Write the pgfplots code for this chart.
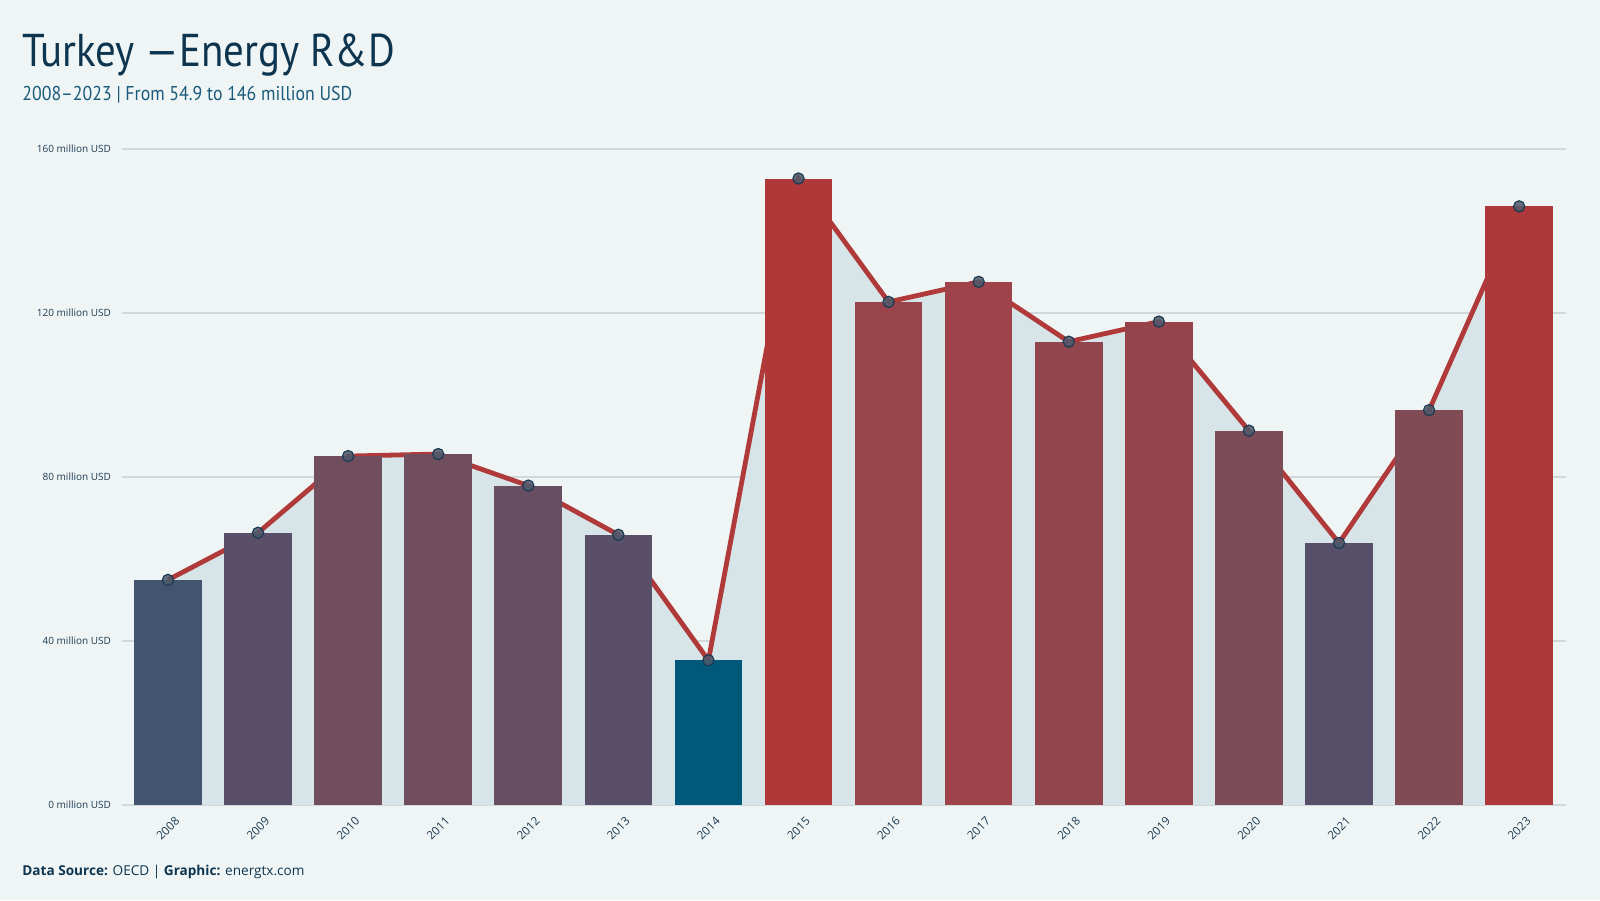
\documentclass[border=0pt]{standalone}
\usepackage{fontspec}
\usepackage{pgfplots}
\usepackage{pgfplotstable}
\pgfplotsset{compat=1.18}
\setmainfont{Open Sans}
\newfontfamily\titlefont[FakeStretch=0.89]{PT Sans}
\definecolor{bg}{HTML}{EFF5F5}
\definecolor{areac}{HTML}{D7E4E8}
\definecolor{linec}{HTML}{B03A3A}
\definecolor{titlec}{HTML}{0D3550}
\definecolor{subc}{HTML}{1A5A7A}
\definecolor{tickc}{HTML}{1C3A52}
\definecolor{gridc}{HTML}{CFD9DC}
\definecolor{markc}{HTML}{4E5A6C}
\definecolor{markd}{HTML}{1C3A52}
\definecolor{b0}{HTML}{43546E}
\definecolor{b1}{HTML}{5A4F68}
\definecolor{b2}{HTML}{704E5E}
\definecolor{b3}{HTML}{714E5E}
\definecolor{b4}{HTML}{674E62}
\definecolor{b5}{HTML}{594F68}
\definecolor{b6}{HTML}{00587A}
\definecolor{b7}{HTML}{B03838}
\definecolor{b8}{HTML}{98444A}
\definecolor{b9}{HTML}{9D4349}
\definecolor{b10}{HTML}{91454D}
\definecolor{b11}{HTML}{96444B}
\definecolor{b12}{HTML}{7C4D59}
\definecolor{b13}{HTML}{574F69}
\definecolor{b14}{HTML}{814B56}
\definecolor{b15}{HTML}{AE393B}
\pgfplotstableread{
x y
0 54.9
1 66.4
2 85.1
3 85.6
4 77.9
5 65.9
6 35.3
7 152.8
8 122.7
9 127.6
10 113.0
11 117.9
12 91.3
13 63.9
14 96.3
15 146.0
}\datatable
\begin{document}
\begin{tikzpicture}
\fill[bg] (0pt,0pt) rectangle (800pt,450pt);
\node[anchor=base west, inner sep=0, font=\titlefont\fontsize{23}{27}\selectfont, text=titlec] at (11pt,416.5pt) {Turkey —Energy R\&D};
\node[anchor=base west, inner sep=0, font=\titlefont\fontsize{10}{12}\selectfont, text=subc] at (11pt,399.5pt) {2008–2023 | From 54.9 to 146 million USD};
\node[anchor=base west, inner sep=0, font=\fontsize{6.8}{8}\selectfont, text=titlec] at (11pt,12.5pt) {\textbf{Data Source:} OECD | \textbf{Graphic:} energtx.com};
\begin{axis}[
  at={(61pt,47.5pt)}, anchor=south west, scale only axis,
  width=722pt, height=328pt,
  xmin=-0.51, xmax=15.52, ymin=0, ymax=160,
  axis line style={draw=none},
  major tick length=0pt,
  ytick={0,40,80,120,160},
  ymajorgrids, grid style={gridc, line width=0.6pt},
  xtick={0,...,15},
  xticklabels={2008,2009,2010,2011,2012,2013,2014,2015,2016,2017,2018,2019,2020,2021,2022,2023},
  x tick label style={rotate=45, anchor=north east, font=\fontsize{5.8}{7}\selectfont, text=tickc, inner sep=1pt, yshift=-5pt, xshift=-0.5pt},
  yticklabel={\pgfmathprintnumber{\tick} million USD},
  /pgf/number format/assume math mode=true,
  y tick label style={font=\fontsize{5}{6}\selectfont, text=tickc, xshift=-2pt},
  clip=false,
]
\addplot[fill=areac, draw=none] table {\datatable} \closedcycle;
\addplot[linec, line width=2.4pt] table {\datatable};
\addplot[ybar, bar width=0.75, bar shift=0pt, fill=b0, draw=none] coordinates {(0,54.9)};
\addplot[ybar, bar width=0.75, bar shift=0pt, fill=b1, draw=none] coordinates {(1,66.4)};
\addplot[ybar, bar width=0.75, bar shift=0pt, fill=b2, draw=none] coordinates {(2,85.1)};
\addplot[ybar, bar width=0.75, bar shift=0pt, fill=b3, draw=none] coordinates {(3,85.6)};
\addplot[ybar, bar width=0.75, bar shift=0pt, fill=b4, draw=none] coordinates {(4,77.9)};
\addplot[ybar, bar width=0.75, bar shift=0pt, fill=b5, draw=none] coordinates {(5,65.9)};
\addplot[ybar, bar width=0.75, bar shift=0pt, fill=b6, draw=none] coordinates {(6,35.3)};
\addplot[ybar, bar width=0.75, bar shift=0pt, fill=b7, draw=none] coordinates {(7,152.8)};
\addplot[ybar, bar width=0.75, bar shift=0pt, fill=b8, draw=none] coordinates {(8,122.7)};
\addplot[ybar, bar width=0.75, bar shift=0pt, fill=b9, draw=none] coordinates {(9,127.6)};
\addplot[ybar, bar width=0.75, bar shift=0pt, fill=b10, draw=none] coordinates {(10,113.0)};
\addplot[ybar, bar width=0.75, bar shift=0pt, fill=b11, draw=none] coordinates {(11,117.9)};
\addplot[ybar, bar width=0.75, bar shift=0pt, fill=b12, draw=none] coordinates {(12,91.3)};
\addplot[ybar, bar width=0.75, bar shift=0pt, fill=b13, draw=none] coordinates {(13,63.9)};
\addplot[ybar, bar width=0.75, bar shift=0pt, fill=b14, draw=none] coordinates {(14,96.3)};
\addplot[ybar, bar width=0.75, bar shift=0pt, fill=b15, draw=none] coordinates {(15,146.0)};
\addplot[only marks, mark=*, mark size=2.8pt, mark options={fill=markc, fill opacity=0.85, draw=markd, line width=0.6pt}] table {\datatable};
\end{axis}
\end{tikzpicture}
\end{document}
